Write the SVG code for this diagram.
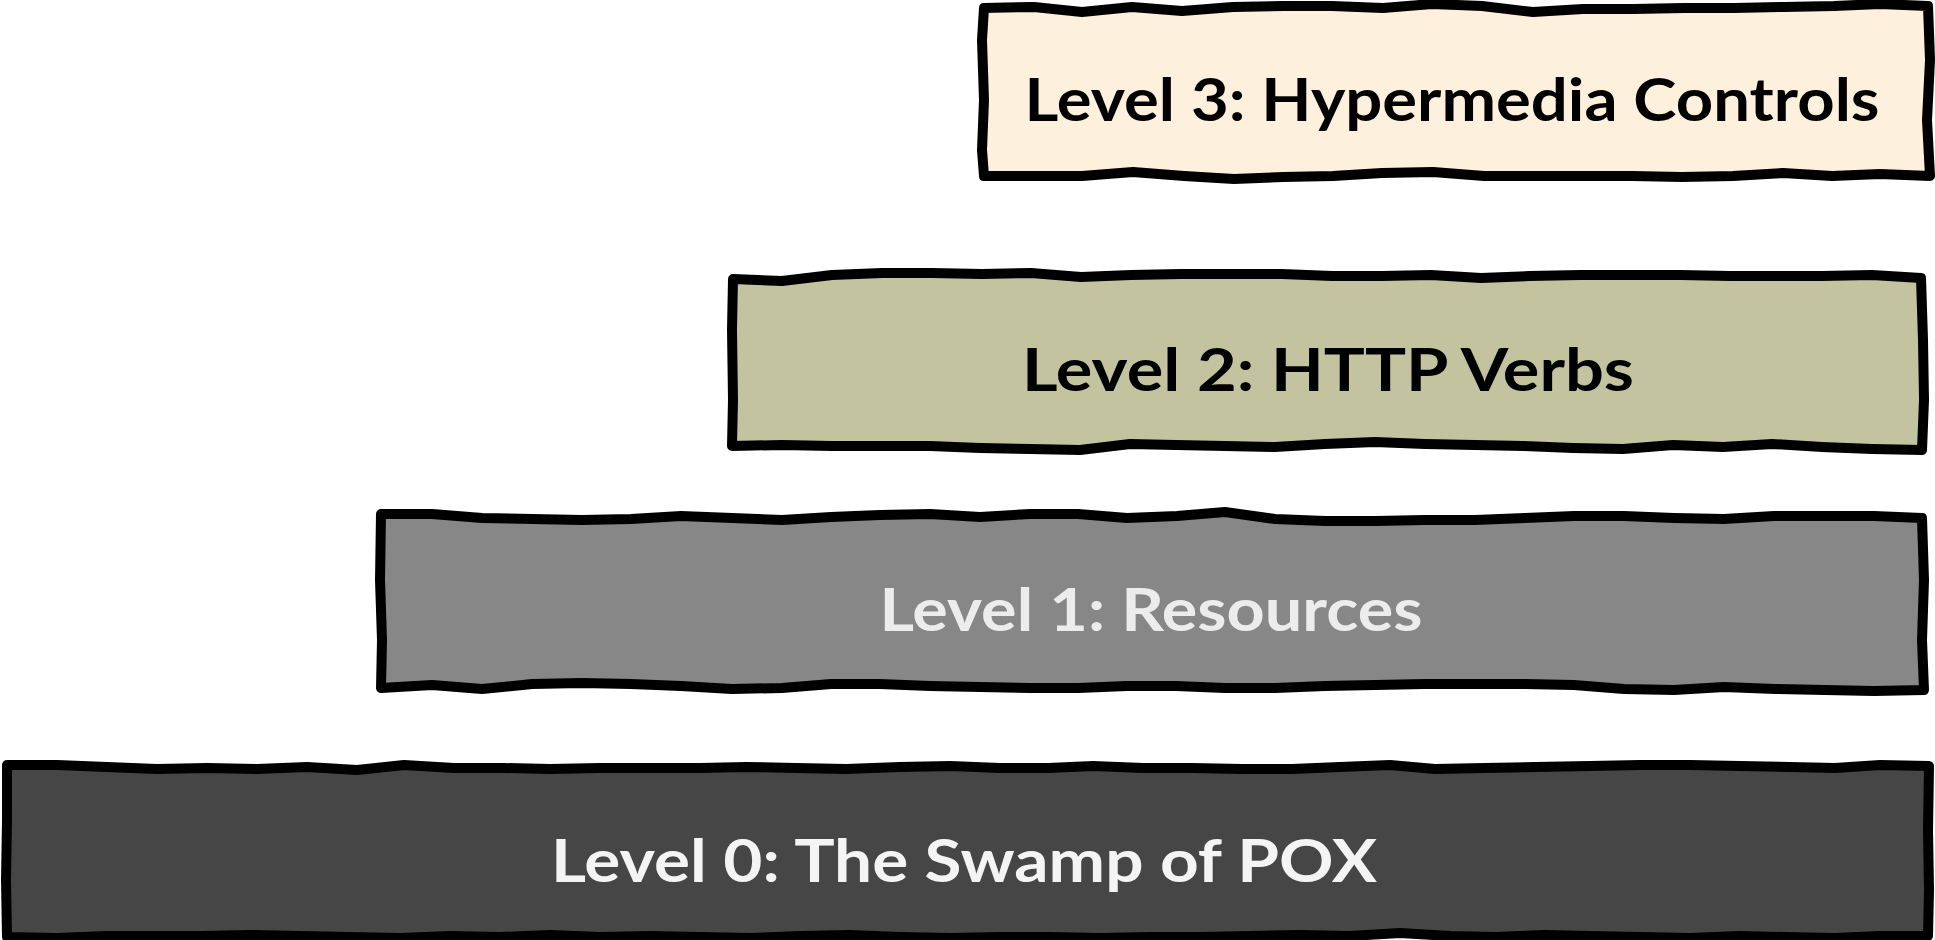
<svg xmlns="http://www.w3.org/2000/svg" width="1935" height="940" viewBox="0 0 1935 940">
<style>
.box{stroke:#000;stroke-width:10;stroke-linejoin:round;stroke-linecap:round}
.lbl{font-family:"Comic Sans MS","Lato","Open Sans",sans-serif;font-weight:bold;font-size:60px;text-anchor:middle}
</style>
<rect width="1935" height="940" fill="#fff"/>
<g id="level3">
<path class="box" fill="#fdf0dc" d="M984,8 L1034,7 L1082,12 L1132,7 L1182,11 L1233,7 L1283,6 L1332,6 L1383,8 L1432,4 L1482,6 L1533,12 L1583,9 L1633,9 L1684,8 L1734,8 L1784,7 L1834,6 L1880,4 L1928,6 L1930,60 L1927,120 L1930,176 L1880,174 L1832,176 L1783,173 L1733,176 L1682,177 L1632,176 L1583,176 L1533,176 L1484,176 L1433,172 L1382,173 L1333,176 L1283,177 L1234,179 L1184,176 L1133,172 L1082,176 L1034,176 L984,176 L982,150 L984,100 L982,40 Z"/>
<text class="lbl" x="1452" y="121" fill="#000" textLength="855" lengthAdjust="spacingAndGlyphs">Level 3: Hypermedia Controls</text>
</g>
<g id="level2">
<path class="box" fill="#c4c3a0" d="M733,279 L782,281 L832,275 L882,273 L932,273 L982,274 L1031,273 L1081,277 L1131,275 L1181,274 L1232,274 L1282,274 L1332,276 L1382,276 L1431,275 L1481,278 L1530,276 L1580,275 L1630,275 L1680,275 L1730,276 L1780,276 L1822,276 L1872,275 L1921,278 L1923,340 L1924,400 L1922,450 L1872,449 L1822,447 L1772,444 L1723,447 L1673,445 L1623,449 L1573,448 L1523,446 L1475,445 L1425,444 L1375,442 L1325,444 L1275,447 L1225,446 L1176,445 L1130,444 L1080,450 L1030,449 L980,448 L930,446 L880,446 L832,446 L782,445 L732,446 L733,400 L732,330 Z"/>
<text class="lbl" x="1328" y="391" fill="#000" textLength="612" lengthAdjust="spacingAndGlyphs">Level 2: HTTP Verbs</text>
</g>
<g id="level1">
<path class="box" fill="#878787" d="M381,514 L432,514 L482,518 L532,519 L582,520 L631,519 L681,516 L732,518 L782,520 L831,517 L880,515 L930,514 L980,517 L1030,514 L1078,514 L1127,518 L1177,516 L1225,512 L1275,519 L1325,521 L1375,521 L1425,520 L1475,520 L1525,518 L1574,516 L1624,516 L1674,518 L1724,519 L1774,516 L1824,516 L1874,516 L1922,518 L1924,580 L1922,640 L1924,690 L1874,691 L1825,690 L1775,689 L1724,687 L1674,690 L1624,689 L1574,685 L1525,684 L1475,684 L1425,684 L1375,685 L1325,686 L1275,688 L1225,688 L1176,686 L1127,686 L1078,688 L1030,688 L980,687 L930,686 L880,684 L831,684 L782,688 L732,689 L681,686 L631,684 L582,683 L532,684 L482,689 L432,685 L381,688 L382,640 L380,580 Z"/>
<text class="lbl" x="1151" y="631" fill="#ececec" textLength="543" lengthAdjust="spacingAndGlyphs">Level 1: Resources</text>
</g>
<g id="level0">
<path class="box" fill="#464646" d="M7,765 L57,765 L107,767 L157,769 L207,768 L257,769 L307,767 L357,770 L404,765 L454,768 L504,768 L550,769 L600,768 L650,768 L700,768 L746,767 L796,768 L846,769 L900,767 L950,766 L1000,768 L1048,768 L1093,766 L1143,768 L1192,768 L1242,769 L1292,769 L1340,767 L1390,765 L1435,769 L1485,768 L1535,767 L1590,766 L1640,765 L1690,765 L1740,766 L1790,767 L1835,768 L1880,765 L1929,766 L1928,830 L1929,890 L1928,936 L1880,936 L1835,938 L1785,937 L1740,936 L1690,938 L1640,937 L1590,936 L1545,935 L1495,937 L1450,936 L1400,933 L1350,936 L1300,935 L1250,936 L1200,937 L1150,937 L1100,938 L1050,937 L1000,937 L950,938 L900,937 L850,935 L800,936 L750,938 L700,937 L650,936 L600,937 L550,935 L500,937 L450,936 L400,938 L350,937 L300,936 L250,935 L200,936 L150,936 L107,936 L57,938 L7,937 L6,880 L7,820 Z"/>
<text class="lbl" x="964" y="882" fill="#f4f4f4" textLength="826" lengthAdjust="spacingAndGlyphs">Level 0: The Swamp of POX</text>
</g>
<g id="connectors"/>
</svg>
